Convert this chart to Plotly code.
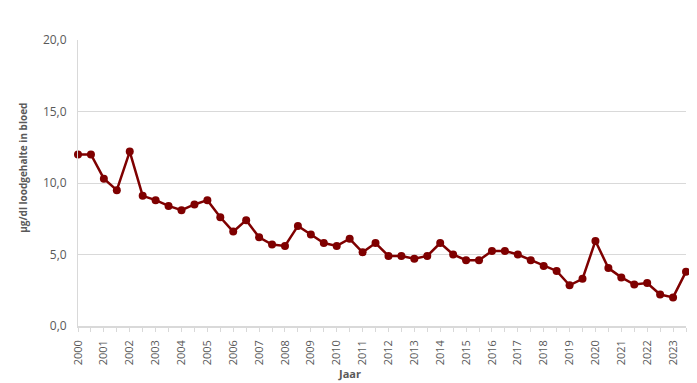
import plotly.graph_objects as go

years = [str(y) for y in range(2000, 2024)]
# two measurements per year (half-yearly), 48 points
lead_values = [12.0, 12.0, 10.3, 9.5, 12.2, 9.1, 8.8, 8.4, 8.1, 8.5,
               8.8, 7.6, 6.6, 7.4, 6.2, 5.7, 5.6, 7.0, 6.4, 5.8,
               5.6, 6.1, 5.15, 5.8, 4.9, 4.9, 4.7, 4.9, 5.8, 5.0,
               4.6, 4.6, 5.25, 5.25, 5.0, 4.6, 4.2, 3.85, 2.85, 3.3,
               5.95, 4.05, 3.4, 2.9, 3.0, 2.2, 2.0, 3.8]
y_ticks = [0, 5, 10, 15, 20]

x_idx = list(range(len(lead_values)))
tick_text = []
for i in x_idx:
    tick_text.append(years[i // 2] if i % 2 == 0 and i // 2 < len(years) else "")

fig = go.Figure()
fig.add_trace(go.Scatter(
    x=x_idx, y=lead_values, mode="lines+markers",
    line=dict(color="#7f0000", width=2.5),
    marker=dict(color="#7f0000", size=8),
    cliponaxis=False, showlegend=False,
))

gray = "#595959"
fig.update_layout(
    width=689, height=375,
    margin=dict(l=70, r=11, t=32, b=56.5, autoexpand=False),
    paper_bgcolor="white", plot_bgcolor="white",
    font=dict(family="Open Sans", size=11, color=gray),
    separators=",.",
    xaxis=dict(
        range=[0, 47], tickmode="array", tickvals=x_idx, ticktext=tick_text,
        tickangle=-90, ticks="outside", ticklen=4, tickcolor="#d9d9d9",
        ticklabelstandoff=4,
        showline=True, linecolor="#d9d9d9", linewidth=1.5,
        showgrid=False, zeroline=False, automargin=False,
        tickfont=dict(size=11, color=gray),
    ),
    yaxis=dict(
        range=[0, 20], tickmode="array", tickvals=y_ticks, tickformat=".1f",
        showgrid=True, gridcolor="#d9d9d9", gridwidth=1,
        showline=True, linecolor="#d9d9d9", linewidth=1,
        zeroline=False, ticks="", ticklabelstandoff=8, automargin=False,
        tickfont=dict(size=12, color=gray),
    ),
    annotations=[
        dict(text="<b>µg/dl loodgehalte in bloed</b>", xref="paper", yref="paper",
             x=-0.0905, y=0.553, textangle=-90, showarrow=False,
             font=dict(size=10, color=gray), xanchor="center", yanchor="middle"),
        dict(text="<b>Jaar</b>", xref="paper", yref="paper",
             x=0.447, y=-0.166, showarrow=False,
             font=dict(size=11, color=gray), xanchor="center", yanchor="middle"),
    ],
)

fig.write_html("out.html")
